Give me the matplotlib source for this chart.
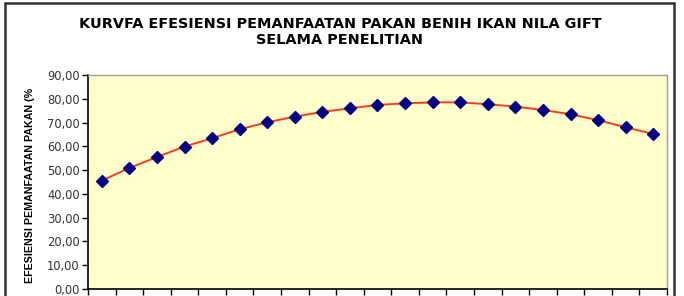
import matplotlib
matplotlib.use("Agg")
import matplotlib.pyplot as plt
from matplotlib.ticker import FuncFormatter, FixedLocator, NullFormatter
from matplotlib.patches import Rectangle

plt.rcParams['font.family'] = ['DejaVu Sans']

title = "KURVFA EFESIENSI PEMANFAATAN PAKAN BENIH IKAN NILA GIFT\nSELAMA PENELITIAN"
ylabel = "EFESIENSI PEMANFAATAN PAKAN (%"
efisiensi = [45.6, 50.9, 55.5, 59.9, 63.4, 67.2, 70.1, 72.5, 74.5, 76.0, 77.4,
             78.1, 78.5, 78.5, 77.7, 76.7, 75.3, 73.5, 71.0, 68.0, 65.2]
yticks = [0, 10, 20, 30, 40, 50, 60, 70, 80, 90]

x = list(range(len(efisiensi)))

fig = plt.figure(figsize=(6.84, 2.96), dpi=100)
W, H = 684, 296
ax = fig.add_axes([88 / W, 7 / H, 579 / W, 214 / H])
ax.set_facecolor('#FFFFCC')

ax.plot(x, efisiensi, color='#FF3B1F', linewidth=1.4, marker='D',
        markersize=6.3, markerfacecolor='#000080', markeredgecolor='#000080', zorder=3)

ax.set_xlim(-0.5, len(efisiensi) - 0.5)
ax.set_ylim(0, 90)
ax.set_yticks(yticks)
ax.yaxis.set_major_formatter(FuncFormatter(lambda v, p: f"{v:.2f}".replace('.', ',')))
ax.xaxis.set_major_locator(FixedLocator([i - 0.5 for i in range(len(efisiensi) + 1)]))
ax.xaxis.set_major_formatter(NullFormatter())
ax.tick_params(axis='both', direction='out', length=4, width=1, color='black')
ax.tick_params(axis='y', labelsize=8.3, labelcolor='#333333', pad=2)

for s in ['top', 'right']:
    ax.spines[s].set_color('#A0A0A0')
    ax.spines[s].set_linewidth(1)
for s in ['left', 'bottom']:
    ax.spines[s].set_color('black')
    ax.spines[s].set_linewidth(1.2)

ax.set_ylabel(ylabel, fontsize=7.7, fontweight='bold', family=['Liberation Sans', 'DejaVu Sans'])
ax.yaxis.set_label_coords(-0.092, 0.486)

fig.text(340 / W, 1 - 32 / H, title, ha='center', va='center', fontsize=10.4,
         fontweight='bold', linespacing=1.15)

frame = Rectangle((5 / W, -0.1), (674 - 5) / W, 1.1 - 3 / H, transform=fig.transFigure,
                  fill=False, edgecolor='#333333', linewidth=1.8)
fig.patches.append(frame)

fig.savefig('out.png', dpi=100)
